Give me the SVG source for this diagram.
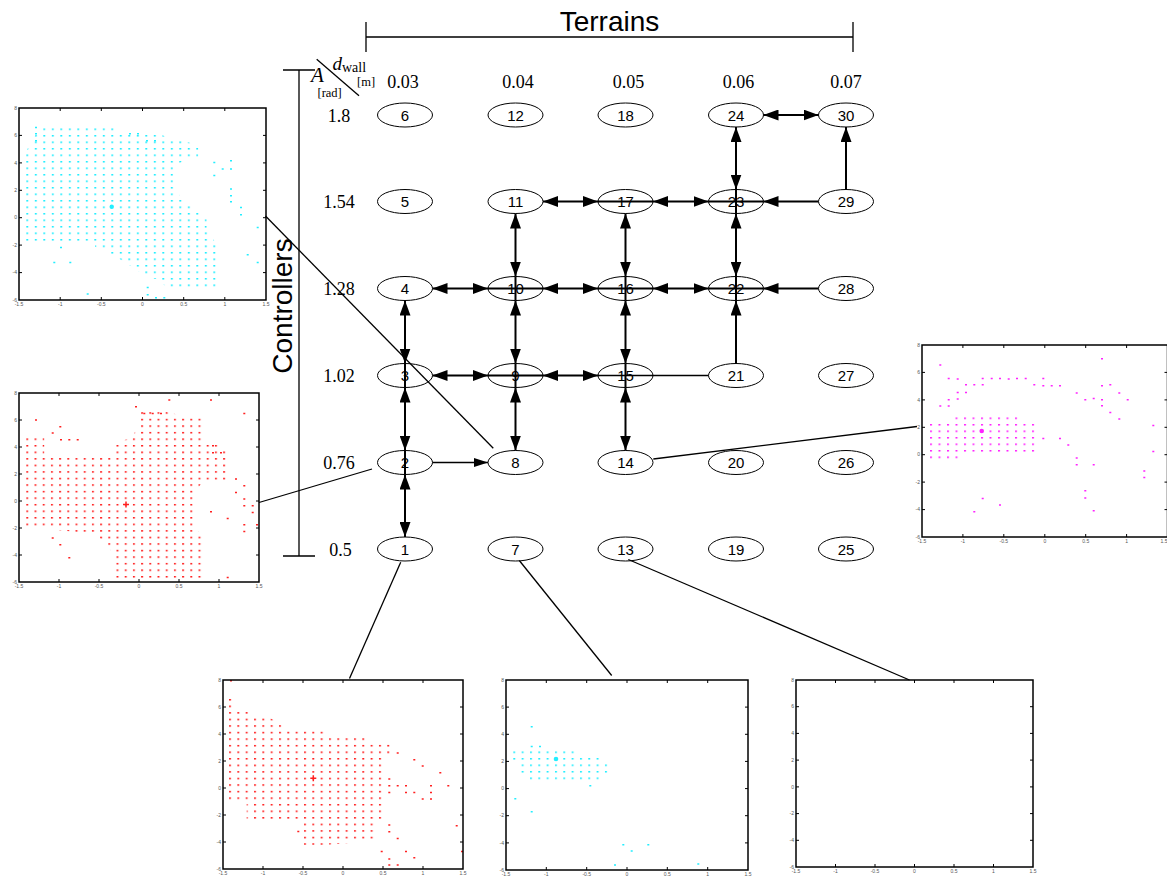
<svg xmlns="http://www.w3.org/2000/svg" width="1167" height="882" viewBox="0 0 1167 882">
<style>
.node ellipse{fill:#fff;stroke:#000;stroke-width:1}
.node text{font-family:"Liberation Sans",Arial,sans-serif;font-size:15px;text-anchor:middle;fill:#000}
.e{stroke:#000;stroke-width:2;fill:none}
.th{stroke:#000;stroke-width:1.3;fill:none}
.frame{fill:none;stroke:#000;stroke-width:1.5}
.tk{stroke:#000;stroke-width:1;fill:none}
.tl{font-family:"Liberation Sans",Arial,sans-serif;font-size:5px;fill:#555}
.tx{text-anchor:middle}
.ty{text-anchor:end}
.sf{font-family:"Liberation Serif","Times New Roman",serif;fill:#000}
.ss{font-family:"Liberation Sans",Arial,sans-serif;fill:#000}
.cy{fill:#22eeff}.rd{fill:#ff2020}.mg{fill:#ff22ff}
</style>
<defs>
<marker id="ah" markerUnits="userSpaceOnUse" markerWidth="15" markerHeight="11" refX="15" refY="5.5" orient="auto-start-reverse" viewBox="0 0 15 11"><path d="M0,0L15,5.5L0,11z" fill="#000"/></marker>
<marker id="ahs" markerUnits="userSpaceOnUse" markerWidth="14" markerHeight="9" refX="14" refY="4.5" orient="auto" viewBox="0 0 14 9"><path d="M0,0L14,4.5L0,9z" fill="#000"/></marker>
<pattern id="pc1" patternUnits="userSpaceOnUse" x="26.3" y="161" width="8.5" height="6.5"><rect width="2" height="1.5" fill="#22eeff"/></pattern>
<pattern id="pr2" patternUnits="userSpaceOnUse" x="26.3" y="445" width="8.2" height="6.55"><rect width="2" height="1.5" fill="#ff2020"/></pattern>
<pattern id="pm3" patternUnits="userSpaceOnUse" x="930" y="417.5" width="8.5" height="6.5"><rect width="2" height="1.5" fill="#ff22ff"/></pattern>
<pattern id="pr4" patternUnits="userSpaceOnUse" x="229" y="699" width="8.33" height="6.56"><rect width="2" height="1.5" fill="#ff2020"/></pattern>
<pattern id="pc5" patternUnits="userSpaceOnUse" x="513.3" y="751.5" width="8.33" height="6.5"><rect width="2" height="1.5" fill="#22eeff"/></pattern>
</defs>
<rect width="1167" height="882" fill="#fff"/>

<!-- header -->
<g id="terrains">
<text class="ss" x="609.5" y="31" font-size="28" text-anchor="middle">Terrains</text>
<path class="th" d="M366,22V52M366,37H853M853,22V52" stroke-width="1.5"/>
</g>
<g id="controllers">
<text class="ss" font-size="28" text-anchor="middle" transform="translate(292,306) rotate(-90)">Controllers</text>
<path class="th" d="M283,70H315M299,70V556M283,556H315" stroke-width="1.5"/>
</g>
<g id="axis-header">
<path class="th" d="M316.7,59.3L359,95.7" stroke-width="1.2"/>
<text class="sf" x="311" y="82" font-size="21" font-style="italic">A</text>
<text class="sf" x="317.5" y="96.5" font-size="12.5">[rad]</text>
<text class="sf" x="332.5" y="70" font-size="19" font-style="italic">d</text>
<text class="sf" x="342" y="72" font-size="14">wall</text>
<text class="sf" x="357" y="86" font-size="12.5">[m]</text>
</g>
<g id="col-labels" class="sf" font-size="18" text-anchor="middle">
<text x="403" y="88">0.03</text><text x="518" y="88">0.04</text><text x="628.5" y="88">0.05</text><text x="738.5" y="88">0.06</text><text x="846" y="88">0.07</text>
</g>
<g id="row-labels" class="sf" font-size="18" text-anchor="middle">
<text x="339" y="121.5">1.8</text><text x="339" y="208">1.54</text><text x="339" y="295">1.28</text><text x="339" y="382">1.02</text><text x="339" y="469">0.76</text><text x="340.5" y="555.5">0.5</text>
</g>

<!-- plots -->
<g id="plot-a1-54">
<path d="M26,151.7L33.3,138.3L42.7,125L113.3,125L115,131.7L148.3,131.7L173.3,138.3L198.3,145L198.3,156.7L173.3,165L173.3,186.7L181.7,198.3L206.7,218.3L206.7,230L218.3,246.7L218.3,290L168.3,290L160,280L146.7,276.7L126.7,263.3L110,253.3L95,246.7L95,241.7L26,241.7Z" fill="url(#pc1)"/>
<path class="cy" d="M213.3,161.7h2v1.5h-2zM221.7,168.3h2v1.5h-2zM213.3,174.7h2v1.5h-2zM230,160h2v1.5h-2zM230,168.3h2v1.5h-2zM230,188.3h2v1.5h-2zM230,195h2v1.5h-2zM230,201h2v1.5h-2zM240,206.7h2v1.5h-2zM240,214h2v1.5h-2zM256.7,226.7h2v1.5h-2zM246.7,254h2v1.5h-2zM256.7,261.7h2v1.5h-2zM60,246.7h2v1.5h-2zM53.3,261.7h2v1.5h-2zM69.3,261.7h2v1.5h-2zM86.7,293.3h2v1.5h-2zM146.7,286.7h2v1.5h-2zM146.7,294h2v1.5h-2zM155,297h2v1.5h-2zM163.3,297h2v1.5h-2zM35,126.7h2v1.5h-2zM35,133h2v1.5h-2zM35,140h2v1.5h-2zM129,133h2v1.5h-2zM137,133h2v1.5h-2zM146,140h2v1.5h-2zM154,140h2v1.5h-2z"/>
<circle cx="111.7" cy="206.7" r="2.2" fill="#22eeff"/>
<rect class="frame" x="19" y="108" width="247" height="192"/>
<path class="tk" d="M60.2,108v3M101.3,108v3M142.5,108v3M183.7,108v3M224.8,108v3M60.2,300v-3M101.3,300v-3M142.5,300v-3M183.7,300v-3M224.8,300v-3M19,135.4h3M19,162.9h3M19,190.3h3M19,217.7h3M19,245.1h3M19,272.6h3M266,135.4h-3M266,162.9h-3M266,190.3h-3M266,217.7h-3M266,245.1h-3M266,272.6h-3"/>
<g class="tl tx"><text x="19" y="306">-1.5</text><text x="60.2" y="306">-1</text><text x="101.3" y="306">-0.5</text><text x="142.5" y="306">0</text><text x="183.7" y="306">0.5</text><text x="224.8" y="306">1</text><text x="266" y="306">1.5</text></g>
<g class="tl ty"><text x="17" y="109.7">8</text><text x="17" y="137.1">6</text><text x="17" y="164.6">4</text><text x="17" y="192">2</text><text x="17" y="219.4">0</text><text x="17" y="246.8">-2</text><text x="17" y="274.3">-4</text><text x="17" y="301.7">-6</text></g>
</g>

<g id="plot-a0-76">
<path d="M26,437.3L44.3,437.3L44.3,456.7L116,456.7L116,443.3L133.3,436.7L141.7,410.7L161.7,410.7L186.7,416.7L204,416.7L204,443.3L220,443.3L230,456.7L230,480L204,480L196.7,490L195,526.7L204,540L204,581L115,581L115,556.7L108.3,546.7L100,538.3L88.3,533.3L26,526.7Z" fill="url(#pr2)"/>
<path class="rd" d="M35,419.3h2v1.5h-2zM59.3,426h2v1.5h-2zM51.7,432.3h2v1.5h-2zM60,439h2v1.5h-2zM68.3,439h2v1.5h-2zM76.7,439h2v1.5h-2zM135,406h2v1.5h-2zM143.3,412.7h2v1.5h-2zM151.7,412.7h2v1.5h-2zM160,412.7h2v1.5h-2zM168.3,399.3h2v1.5h-2zM210,399.3h2v1.5h-2zM243.3,412.7h2v1.5h-2zM235,478.3h2v1.5h-2zM235,491.7h2v1.5h-2zM243.3,485h2v1.5h-2zM243.3,498.3h2v1.5h-2zM243.3,505h2v1.5h-2zM251.7,505h2v1.5h-2zM251.7,511.7h2v1.5h-2zM243.3,524h2v1.5h-2zM243.3,530.7h2v1.5h-2zM210,511h2v1.5h-2zM226.7,517.7h2v1.5h-2zM51.7,537.3h2v1.5h-2zM59.3,544h2v1.5h-2zM68.3,557h2v1.5h-2zM226.7,576.7h2v1.5h-2zM256,524h2v1.5h-2zM212,445h2v1.5h-2zM212,452h2v1.5h-2zM220,452h2v1.5h-2z"/>
<path d="M126,501.5v6M123,504.5h6" stroke="#ff2020" stroke-width="1.5"/>
<rect class="frame" x="19" y="393" width="240" height="189"/>
<path class="tk" d="M59,393v3M99,393v3M139,393v3M179,393v3M219,393v3M59,582v-3M99,582v-3M139,582v-3M179,582v-3M219,582v-3M19,420h3M19,447h3M19,474h3M19,501h3M19,528h3M19,555h3M259,420h-3M259,447h-3M259,474h-3M259,501h-3M259,528h-3M259,555h-3"/>
<g class="tl tx"><text x="19" y="588">-1.5</text><text x="59" y="588">-1</text><text x="99" y="588">-0.5</text><text x="139" y="588">0</text><text x="179" y="588">0.5</text><text x="219" y="588">1</text><text x="259" y="588">1.5</text></g>
<g class="tl ty"><text x="17" y="394.7">8</text><text x="17" y="421.7">6</text><text x="17" y="448.7">4</text><text x="17" y="475.7">2</text><text x="17" y="502.7">0</text><text x="17" y="529.7">-2</text><text x="17" y="556.7">-4</text><text x="17" y="583.7">-6</text></g>
</g>

<g id="plot-a0-76-d0-05">
<path d="M928.7,422.7L954,422.7L954,415.3L1018.7,415.3L1018.7,422L1035.3,422L1035.3,453.3L960,453.3L960,460.7L928.7,460.7Z" fill="url(#pm3)"/>
<path class="mg" d="M939.3,364.3h2v1.5h-2zM947.7,377.7h2v1.5h-2zM956.7,378.3h2v1.5h-2zM956.7,391.7h2v1.5h-2zM956.7,398.3h2v1.5h-2zM965,384h2v1.5h-2zM965,391.7h2v1.5h-2zM973.3,384h2v1.5h-2zM981.7,377.7h2v1.5h-2zM981.7,384h2v1.5h-2zM990.7,377.7h2v1.5h-2zM999,377.7h2v1.5h-2zM1007.7,378.3h2v1.5h-2zM1016,377.7h2v1.5h-2zM1024.7,377.7h2v1.5h-2zM1033.3,384h2v1.5h-2zM1042.3,377.7h2v1.5h-2zM1042.3,385h2v1.5h-2zM1050.7,385h2v1.5h-2zM1059,385h2v1.5h-2zM939.3,405.3h2v1.5h-2zM947.7,405.3h2v1.5h-2zM947.7,399h2v1.5h-2zM1075.7,392.3h2v1.5h-2zM1084.3,399h2v1.5h-2zM1092.7,397.7h2v1.5h-2zM1101,385h2v1.5h-2zM1101,399h2v1.5h-2zM1101,405h2v1.5h-2zM1109.3,384h2v1.5h-2zM1109.3,411.7h2v1.5h-2zM1118.3,392.3h2v1.5h-2zM1118.3,418.3h2v1.5h-2zM1126.7,399h2v1.5h-2zM1101,358h2v1.5h-2zM1152.3,424.7h2v1.5h-2zM1152.3,450.7h2v1.5h-2zM1042.3,437.7h2v1.5h-2zM1059,437.7h2v1.5h-2zM1067.3,444.3h2v1.5h-2zM1075.7,457.3h2v1.5h-2zM1075.7,464h2v1.5h-2zM1092.7,464h2v1.5h-2zM1143.3,470.3h2v1.5h-2zM1143.3,476.7h2v1.5h-2zM1084.3,490h2v1.5h-2zM1084.3,497.3h2v1.5h-2zM1092.7,510h2v1.5h-2zM981.7,497.7h2v1.5h-2zM973.3,511h2v1.5h-2zM999,504.3h2v1.5h-2z"/>
<circle cx="981.7" cy="431" r="2.3" fill="#ff22ff"/>
<rect class="frame" x="922" y="345" width="245.5" height="192"/>
<path class="tk" d="M962.9,345v3M1003.8,345v3M1044.8,345v3M1085.7,345v3M1126.6,345v3M962.9,537v-3M1003.8,537v-3M1044.8,537v-3M1085.7,537v-3M1126.6,537v-3M922,372.4h3M922,399.9h3M922,427.3h3M922,454.7h3M922,482.1h3M922,509.6h3M1167.5,372.4h-3M1167.5,399.9h-3M1167.5,427.3h-3M1167.5,454.7h-3M1167.5,482.1h-3M1167.5,509.6h-3"/>
<g class="tl tx"><text x="922" y="543">-1.5</text><text x="962.9" y="543">-1</text><text x="1003.8" y="543">-0.5</text><text x="1044.8" y="543">0</text><text x="1085.7" y="543">0.5</text><text x="1126.6" y="543">1</text><text x="1164" y="543">1.5</text></g>
<g class="tl ty"><text x="920" y="346.7">8</text><text x="920" y="374.1">6</text><text x="920" y="401.6">4</text><text x="920" y="429">2</text><text x="920" y="456.4">0</text><text x="920" y="483.8">-2</text><text x="920" y="511.3">-4</text><text x="920" y="538.7">-6</text></g>
</g>

<g id="plot-a0-5-d0-03">
<path d="M228.3,697.3L232.7,697.3L232.7,710.7L248.3,710.7L248.3,716.7L266.7,716.7L281.7,723.3L281.7,730L325,730L325,736.7L366.7,736.7L366.7,743.3L391.7,743.3L391.7,755L383.3,755L383.3,820L374,820L374,841L325,845L303.3,845L303.3,821.7L288.3,819L246.7,819L246.7,801.7L228.3,800Z" fill="url(#pr4)"/>
<path class="rd" d="M396.7,752.3h2v1.5h-2zM413.3,759h2v1.5h-2zM421.7,765.3h2v1.5h-2zM439.3,772h2v1.5h-2zM447.3,785h2v1.5h-2zM430,785h2v1.5h-2zM430,791.7h2v1.5h-2zM421.7,798.3h2v1.5h-2zM430,798.3h2v1.5h-2zM413.3,791.7h2v1.5h-2zM405,785h2v1.5h-2zM405,791.7h2v1.5h-2zM396.7,785h2v1.5h-2zM388.3,778.3h2v1.5h-2zM388.3,785h2v1.5h-2zM388.3,791.7h2v1.5h-2zM388.3,824.3h2v1.5h-2zM388.3,831h2v1.5h-2zM396.7,837.7h2v1.5h-2zM380.7,850.7h2v1.5h-2zM388.3,858.3h2v1.5h-2zM388.3,864.3h2v1.5h-2zM396.7,864.3h2v1.5h-2zM405,850.7h2v1.5h-2zM413.3,857h2v1.5h-2zM455.7,825h2v1.5h-2zM461,850.7h2v1.5h-2zM297.3,830.7h2v1.5h-2zM230,680h2v1.5h-2z"/>
<path d="M313.3,775.3v6M310.3,778.3h6" stroke="#ff2020" stroke-width="1.5"/>
<rect class="frame" x="223" y="680" width="240" height="189"/>
<path class="tk" d="M263,680v3M303,680v3M343,680v3M383,680v3M423,680v3M263,869v-3M303,869v-3M343,869v-3M383,869v-3M423,869v-3M223,707h3M223,734h3M223,761h3M223,788h3M223,815h3M223,842h3M463,707h-3M463,734h-3M463,761h-3M463,788h-3M463,815h-3M463,842h-3"/>
<g class="tl tx"><text x="223" y="875">-1.5</text><text x="263" y="875">-1</text><text x="303" y="875">-0.5</text><text x="343" y="875">0</text><text x="383" y="875">0.5</text><text x="423" y="875">1</text><text x="463" y="875">1.5</text></g>
<g class="tl ty"><text x="221" y="681.7">8</text><text x="221" y="708.7">6</text><text x="221" y="735.7">4</text><text x="221" y="762.7">2</text><text x="221" y="789.7">0</text><text x="221" y="816.7">-2</text><text x="221" y="843.7">-4</text><text x="221" y="870.7">-6</text></g>
</g>

<g id="plot-a0-5-d0-04">
<path d="M512.7,750L575,750L575,756.7L599.3,756.7L599.3,762.3L607.7,762.3L607.7,774.3L599.3,774.3L599.3,781L528.3,781L528.3,775L520,775L520,761.7L512.7,761.7Z" fill="url(#pc5)"/>
<path class="cy" d="M530.7,726h2v1.5h-2zM530.7,745.7h2v1.5h-2zM539,745.7h2v1.5h-2zM589.3,785h2v1.5h-2zM514.3,798h2v1.5h-2zM530.7,811h2v1.5h-2zM622.3,844h2v1.5h-2zM630.7,850.3h2v1.5h-2zM647.3,844h2v1.5h-2zM614,864.3h2v1.5h-2zM697.3,863.3h2v1.5h-2z"/>
<circle cx="556" cy="759" r="2.3" fill="#22eeff"/>
<rect class="frame" x="506" y="680" width="242" height="190"/>
<path class="tk" d="M546.3,680v3M586.7,680v3M627,680v3M667.3,680v3M707.7,680v3M546.3,870v-3M586.7,870v-3M627,870v-3M667.3,870v-3M707.7,870v-3M506,707.1h3M506,734.3h3M506,761.4h3M506,788.6h3M506,815.7h3M506,842.9h3M748,707.1h-3M748,734.3h-3M748,761.4h-3M748,788.6h-3M748,815.7h-3M748,842.9h-3"/>
<g class="tl tx"><text x="506" y="876">-1.5</text><text x="546.3" y="876">-1</text><text x="586.7" y="876">-0.5</text><text x="627" y="876">0</text><text x="667.3" y="876">0.5</text><text x="707.7" y="876">1</text><text x="748" y="876">1.5</text></g>
<g class="tl ty"><text x="504" y="681.7">8</text><text x="504" y="708.8">6</text><text x="504" y="736">4</text><text x="504" y="763.1">2</text><text x="504" y="790.3">0</text><text x="504" y="817.4">-2</text><text x="504" y="844.6">-4</text><text x="504" y="871.7">-6</text></g>
</g>

<g id="plot-a0-5-d0-05">
<rect class="frame" x="796" y="680" width="237" height="187"/>
<path class="tk" d="M835.5,680v3M875,680v3M914.5,680v3M954,680v3M993.5,680v3M835.5,867v-3M875,867v-3M914.5,867v-3M954,867v-3M993.5,867v-3M796,706.7h3M796,733.4h3M796,760.1h3M796,786.9h3M796,813.6h3M796,840.3h3M1033,706.7h-3M1033,733.4h-3M1033,760.1h-3M1033,786.9h-3M1033,813.6h-3M1033,840.3h-3"/>
<g class="tl tx"><text x="796" y="873">-1.5</text><text x="835.5" y="873">-1</text><text x="875" y="873">-0.5</text><text x="914.5" y="873">0</text><text x="954" y="873">0.5</text><text x="993.5" y="873">1</text><text x="1033" y="873">1.5</text></g>
<g class="tl ty"><text x="794" y="681.7">8</text><text x="794" y="708.4">6</text><text x="794" y="735.1">4</text><text x="794" y="761.8">2</text><text x="794" y="788.6">0</text><text x="794" y="815.3">-2</text><text x="794" y="842">-4</text><text x="794" y="868.7">-6</text></g>
</g>

<!-- nodes -->
<g id="n1" class="node"><ellipse cx="405" cy="549" rx="27.5" ry="12"/><text x="405" y="554.5">1</text></g>
<g id="n2" class="node"><ellipse cx="405" cy="462.5" rx="27.5" ry="12"/><text x="405" y="468">2</text></g>
<g id="n3" class="node"><ellipse cx="405" cy="375.5" rx="27.5" ry="12"/><text x="405" y="381">3</text></g>
<g id="n4" class="node"><ellipse cx="405" cy="288.5" rx="27.5" ry="12"/><text x="405" y="294">4</text></g>
<g id="n5" class="node"><ellipse cx="405" cy="201.5" rx="27.5" ry="12"/><text x="405" y="207">5</text></g>
<g id="n6" class="node"><ellipse cx="405" cy="115" rx="27.5" ry="12"/><text x="405" y="120.5">6</text></g>
<g id="n7" class="node"><ellipse cx="515.5" cy="549" rx="27.5" ry="12"/><text x="515.5" y="554.5">7</text></g>
<g id="n8" class="node"><ellipse cx="515.5" cy="462.5" rx="27.5" ry="12"/><text x="515.5" y="468">8</text></g>
<g id="n9" class="node"><ellipse cx="515.5" cy="375.5" rx="27.5" ry="12"/><text x="515.5" y="381">9</text></g>
<g id="n10" class="node"><ellipse cx="515.5" cy="288.5" rx="27.5" ry="12"/><text x="515.5" y="294">10</text></g>
<g id="n11" class="node"><ellipse cx="515.5" cy="201.5" rx="27.5" ry="12"/><text x="515.5" y="207">11</text></g>
<g id="n12" class="node"><ellipse cx="515.5" cy="115" rx="27.5" ry="12"/><text x="515.5" y="120.5">12</text></g>
<g id="n13" class="node"><ellipse cx="625.5" cy="549" rx="27.5" ry="12"/><text x="625.5" y="554.5">13</text></g>
<g id="n14" class="node"><ellipse cx="625.5" cy="462.5" rx="27.5" ry="12"/><text x="625.5" y="468">14</text></g>
<g id="n15" class="node"><ellipse cx="625.5" cy="375.5" rx="27.5" ry="12"/><text x="625.5" y="381">15</text></g>
<g id="n16" class="node"><ellipse cx="625.5" cy="288.5" rx="27.5" ry="12"/><text x="625.5" y="294">16</text></g>
<g id="n17" class="node"><ellipse cx="625.5" cy="201.5" rx="27.5" ry="12"/><text x="625.5" y="207">17</text></g>
<g id="n18" class="node"><ellipse cx="625.5" cy="115" rx="27.5" ry="12"/><text x="625.5" y="120.5">18</text></g>
<g id="n19" class="node"><ellipse cx="736" cy="549" rx="27.5" ry="12"/><text x="736" y="554.5">19</text></g>
<g id="n20" class="node"><ellipse cx="736" cy="462.5" rx="27.5" ry="12"/><text x="736" y="468">20</text></g>
<g id="n21" class="node"><ellipse cx="736" cy="375.5" rx="27.5" ry="12"/><text x="736" y="381">21</text></g>
<g id="n22" class="node"><ellipse cx="736" cy="288.5" rx="27.5" ry="12"/><text x="736" y="294">22</text></g>
<g id="n23" class="node"><ellipse cx="736" cy="201.5" rx="27.5" ry="12"/><text x="736" y="207">23</text></g>
<g id="n24" class="node"><ellipse cx="736" cy="115" rx="27.5" ry="12"/><text x="736" y="120.5">24</text></g>
<g id="n25" class="node"><ellipse cx="846" cy="549" rx="27.5" ry="12"/><text x="846" y="554.5">25</text></g>
<g id="n26" class="node"><ellipse cx="846" cy="462.5" rx="27.5" ry="12"/><text x="846" y="468">26</text></g>
<g id="n27" class="node"><ellipse cx="846" cy="375.5" rx="27.5" ry="12"/><text x="846" y="381">27</text></g>
<g id="n28" class="node"><ellipse cx="846" cy="288.5" rx="27.5" ry="12"/><text x="846" y="294">28</text></g>
<g id="n29" class="node"><ellipse cx="846" cy="201.5" rx="27.5" ry="12"/><text x="846" y="207">29</text></g>
<g id="n30" class="node"><ellipse cx="846" cy="115" rx="27.5" ry="12"/><text x="846" y="120.5">30</text></g>

<!-- connectors -->
<g id="connectors">
<g class="e" marker-start="url(#ah)" marker-end="url(#ah)">
<line x1="763.5" y1="115" x2="818.5" y2="115"/>
<line x1="543" y1="201.5" x2="598" y2="201.5"/>
<line x1="653" y1="201.5" x2="708.5" y2="201.5"/>
<line x1="432.5" y1="288.5" x2="488" y2="288.5"/>
<line x1="543" y1="288.5" x2="598" y2="288.5"/>
<line x1="653" y1="288.5" x2="708.5" y2="288.5"/>
<line x1="432.5" y1="375.5" x2="488" y2="375.5"/>
<line x1="543" y1="375.5" x2="598" y2="375.5"/>
<line x1="405" y1="300.5" x2="405" y2="363.5"/>
<line x1="405" y1="387.5" x2="405" y2="450.5"/>
<line x1="405" y1="474.5" x2="405" y2="537"/>
<line x1="515.5" y1="213.5" x2="515.5" y2="276.5"/>
<line x1="515.5" y1="300.5" x2="515.5" y2="363.5"/>
<line x1="515.5" y1="387.5" x2="515.5" y2="450.5"/>
<line x1="625.5" y1="213.5" x2="625.5" y2="276.5"/>
<line x1="625.5" y1="300.5" x2="625.5" y2="363.5"/>
<line x1="625.5" y1="387.5" x2="625.5" y2="450.5"/>
<line x1="736" y1="127" x2="736" y2="189.5"/>
<line x1="736" y1="213.5" x2="736" y2="276.5"/>
</g>
<g class="e" marker-end="url(#ah)">
<line x1="818.5" y1="201.5" x2="763.5" y2="201.5"/>
<line x1="818.5" y1="288.5" x2="763.5" y2="288.5"/>
<line x1="736" y1="363.5" x2="736" y2="300.5"/>
<line x1="846" y1="189.5" x2="846" y2="127"/>
</g>
<path class="e" d="M598,201.5H653M708.5,201.5H763.5M488,288.5H543M598,288.5H653M708.5,288.5H763.5M488,375.5H543M405,363.5V387.5M405,450.5V474.5M515.5,276.5V300.5M515.5,363.5V387.5M625.5,276.5V300.5M625.5,363.5V387.5M736,189.5V213.5M736,276.5V300.5"/>
<line class="th" x1="598" y1="375.5" x2="708.5" y2="375.5"/>
<line class="th" x1="432.5" y1="462.5" x2="488" y2="462.5" marker-end="url(#ahs)"/>
<g class="th">
<line x1="265.5" y1="216" x2="493.3" y2="448.3"/>
<line x1="259" y1="502.5" x2="372" y2="469"/>
<line x1="653.3" y1="459" x2="917" y2="426.5"/>
<line x1="400.7" y1="562.3" x2="349.5" y2="678.5"/>
<line x1="519.3" y1="560.5" x2="611.7" y2="675.5"/>
<line x1="628.3" y1="559.5" x2="909.5" y2="680"/>
</g>
</g>
</svg>
